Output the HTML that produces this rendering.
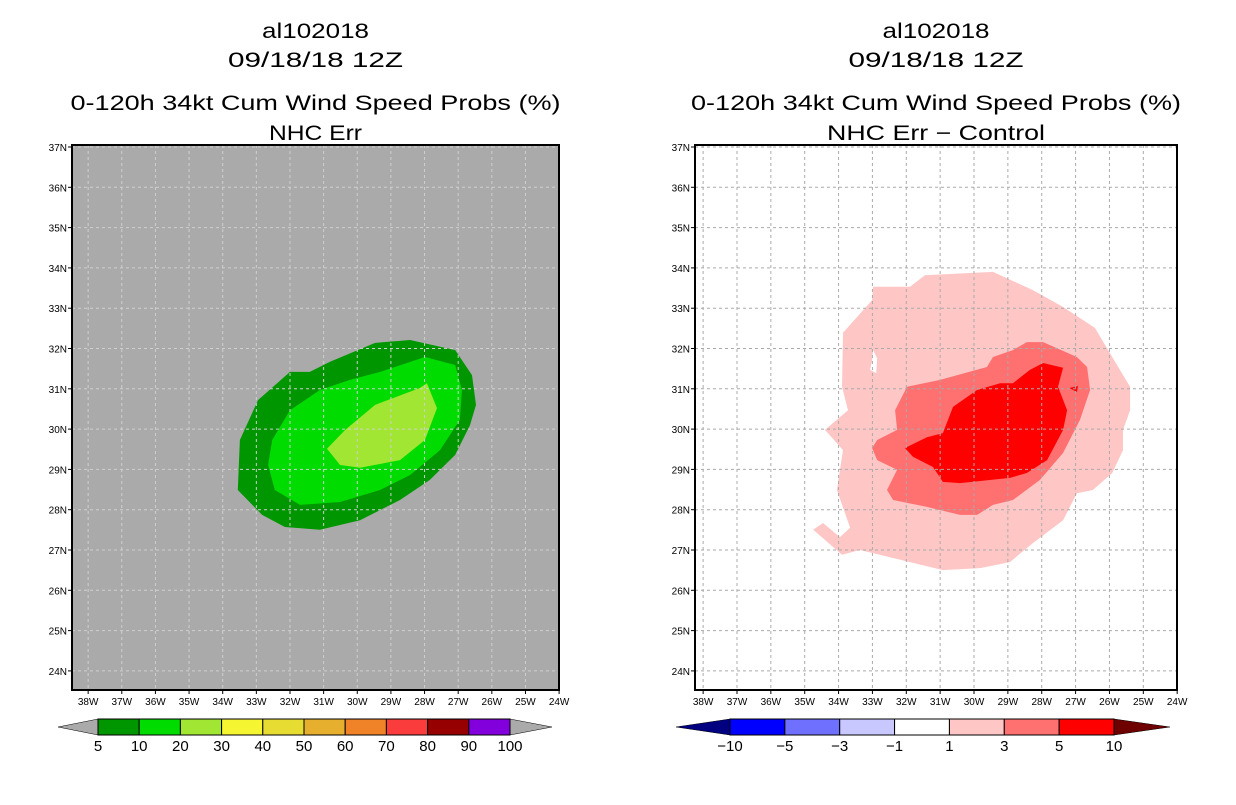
<!DOCTYPE html>
<html><head><meta charset="utf-8"><style>
body{margin:0;background:#fff;}
svg text{font-family:"Liberation Sans",sans-serif;}
</style></head><body>
<svg id="chart" width="1236" height="800" viewBox="0 0 1236 800" xmlns="http://www.w3.org/2000/svg"></svg>
<script>
// ---- data ----
const lonTicks = [38,37,36,35,34,33,32,31,30,29,28,27,26,25,24];
const latTicks = [37,36,35,34,33,32,31,30,29,28,27,26,25,24];
// Left panel contours (lon W, lat N)
const leftDark = [[33.55,28.49],[33.49,29.73],[32.95,30.72],[32.0,31.42],[31.41,31.42],[30.81,31.67],[29.47,32.14],[28.43,32.21],[27.09,31.96],[26.59,31.34],[26.47,30.6],[26.65,30.1],[27.09,29.36],[27.84,28.74],[28.73,28.24],[29.92,27.74],[31.11,27.5],[32.15,27.57],[32.83,27.87]];
const leftMid = [[32.65,29.11],[32.53,29.73],[32.0,30.47],[31.11,30.97],[30.22,31.22],[29.32,31.42],[27.99,31.79],[27.09,31.59],[26.89,30.97],[26.95,30.23],[27.54,29.48],[28.43,28.86],[29.32,28.49],[30.51,28.19],[31.7,28.12],[32.45,28.49]];
const leftLight = [[30.9,29.51],[30.36,29.98],[29.47,30.6],[28.14,31.02],[27.93,31.14],[27.63,30.52],[27.99,29.73],[28.73,29.23],[29.92,29.04],[30.51,29.11]];
// Right panel contours
const rightPink = [[31.45,33.82],[29.44,33.9],[28.26,33.45],[27.37,33.03],[26.43,32.51],[25.92,31.79],[25.39,31.05],[25.39,30.47],[25.6,29.98],[25.6,29.48],[25.92,28.91],[26.49,28.49],[26.96,28.41],[27.37,27.74],[28.26,27.17],[28.94,26.7],[29.82,26.55],[30.92,26.5],[31.89,26.7],[33.37,27.0],[33.9,26.88],[34.75,27.5],[34.46,27.67],[33.96,27.32],[33.66,27.55],[34.05,28.49],[33.87,29.48],[34.4,29.98],[33.72,30.47],[33.9,31.05],[33.87,32.39],[33.01,33.2],[32.98,33.53],[31.89,33.53]];
const rightHole = [[32.98,31.96],[32.86,31.76],[32.89,31.39],[33.07,31.47],[33.01,31.71]];
const rightMid = [[28.44,32.16],[27.96,32.16],[26.96,31.79],[26.66,31.54],[26.57,30.97],[26.87,30.23],[27.37,29.41],[28.05,28.74],[28.85,28.24],[29.44,28.12],[29.91,27.87],[30.41,27.87],[31.39,28.07],[32.39,28.24],[32.57,28.49],[32.27,28.99],[32.86,29.23],[33.01,29.53],[32.86,29.73],[32.27,29.98],[32.33,30.47],[31.98,31.05],[31.0,31.22],[29.62,31.54],[29.44,31.79],[28.85,31.96]];
const rightRed = [[27.96,31.64],[27.37,31.52],[27.52,31.05],[27.25,30.47],[27.37,29.98],[27.84,29.23],[28.44,28.91],[28.94,28.79],[30.41,28.66],[30.92,28.69],[31.21,29.06],[31.8,29.31],[32.04,29.53],[31.39,29.8],[30.92,29.9],[30.62,30.55],[29.91,30.97],[29.23,31.14],[28.85,31.14],[28.35,31.47]];
const rightRedSmall = [[27.19,31.02],[26.93,31.07],[26.96,30.92]];
const leftBarLabels = ['5','10','20','30','40','50','60','70','80','90','100'];
const leftBarColors = ['#009600','#00dc00','#a0e632','#f5f532','#e6dc32','#e6af2d','#f08228','#fa3c3c','#960000','#8200dc'];
const rightBarLabels = ['\u221210','\u22125','\u22123','\u22121','1','3','5','10'];
const rightBarColors = ['#0000ff','#7070ff','#c8c8ff','#ffffff','#ffc6c6','#ff7070','#ff0000'];

const NS='http://www.w3.org/2000/svg';
const svg=document.getElementById('chart');
function mk(tag,attrs,parent){const e=document.createElementNS(NS,tag);for(const k in attrs)e.setAttribute(k,attrs[k]);(parent||svg).appendChild(e);return e;}

function makePanel(p){
  const g=mk('g',{});
  
  
  const xS=lon=>p.x0+(p.lonL-lon)*p.pxLon;
  const yS=lat=>147+(37-lat)*40.3;
  const titles=[['al102018',38,'title-storm-id',107],['09/18/18 12Z',67,'title-date',175],[p.t1,110,'title-product',490],[p.t2,140,'title-subtitle',p.t2w]];
  titles.forEach(t=>{
    const e=mk('text',{x:(p.x0+p.x1)/2,y:t[1],'text-anchor':'middle','font-size':21,fill:'#000',textLength:t[3],lengthAdjust:'spacingAndGlyphs'},g);
    e.textContent=t[0];
    
    
  });
  const bg=mk('rect',{x:p.x0,y:145,width:p.x1-p.x0,height:545,fill:p.bg},g);
  
  
  const clip=mk('clipPath',{id:'clip'+p.id},g);
  mk('rect',{x:p.x0,y:145,width:p.x1-p.x0,height:545},clip);
  const cg=mk('g',{'clip-path':'url(#clip'+p.id+')'},g);
  p.polys.forEach(pl=>{
    const e=mk('polygon',{points:pl.pts.map(q=>xS(q[0]).toFixed(1)+','+yS(q[1]).toFixed(1)).join(' '),fill:pl.c},cg);
    
    
  });
  lonTicks.forEach(l=>{mk('line',{x1:xS(l),x2:xS(l),y1:145,y2:690,stroke:p.grid,'stroke-width':1,'stroke-dasharray':'3,3'},cg);});
  latTicks.forEach(l=>{mk('line',{x1:p.x0,x2:p.x1,y1:yS(l),y2:yS(l),stroke:p.grid,'stroke-width':1,'stroke-dasharray':'3,3'},cg);});
  const fr=mk('rect',{x:p.x0,y:145,width:p.x1-p.x0,height:545,fill:'none',stroke:'#000','stroke-width':2},g);
  
  
  lonTicks.forEach(l=>{
    mk('line',{x1:xS(l),x2:xS(l),y1:690,y2:694,stroke:'#000'},g);
    const e=mk('text',{x:xS(l),y:705,'text-anchor':'middle','font-size':10,fill:'#000'},g);
    e.textContent=l+'W';
    
    
  });
  latTicks.forEach(l=>{
    mk('line',{x1:p.x0-4,x2:p.x0,y1:yS(l),y2:yS(l),stroke:'#000'},g);
    const e=mk('text',{x:p.x0-5,y:yS(l)+4,'text-anchor':'end','font-size':10,fill:'#000'},g);
    e.textContent=l+'N';
    
    
  });
  const cb=p.cb, n=cb.colors.length, w=(cb.b1-cb.b0)/n;
  const lt=mk('polygon',{points:`${cb.b0},719 ${cb.b0},735 ${cb.tl},727`,fill:cb.lc,stroke:'#000','stroke-width':0.5},g);
  
  
  const rt=mk('polygon',{points:`${cb.b1},719 ${cb.b1},735 ${cb.tr},727`,fill:cb.rc,stroke:'#000','stroke-width':0.5},g);
  
  
  cb.colors.forEach((c,i)=>{
    const r=mk('rect',{x:cb.b0+i*w,y:719,width:w,height:16,fill:c,stroke:'#000','stroke-width':1},g);
    
    
  });
  cb.labels.forEach((t,i)=>{
    const e=mk('text',{x:cb.b0+i*w,y:751,'text-anchor':'middle','font-size':15,fill:'#000'},g);
    e.textContent=t;
    
    
  });
}
makePanel({id:'L',name:'left-panel',x0:72,x1:559,lonL:38.48,pxLon:33.64,bg:'#aaaaaa',grid:'#cfcfcf',
  t1:'0-120h 34kt Cum Wind Speed Probs (%)',t2:'NHC Err',t2w:93,
  polys:[{pts:leftDark,c:'#009600',n:'contour-5-10'},{pts:leftMid,c:'#00dc00',n:'contour-10-20'},{pts:leftLight,c:'#a0e632',n:'contour-20-30'}],
  cb:{b0:98,b1:510,tl:58,tr:552,lc:'#aaaaaa',rc:'#aaaaaa',colors:leftBarColors,labels:leftBarLabels}});
makePanel({id:'R',name:'right-panel',x0:695,x1:1177,lonL:38.24,pxLon:33.86,bg:'#ffffff',grid:'#aaaaaa',
  t1:'0-120h 34kt Cum Wind Speed Probs (%)',t2:'NHC Err \u2212 Control',t2w:218,
  polys:[{pts:rightPink,c:'#ffc6c6',n:'contour-1-3'},{pts:rightHole,c:'#ffffff',n:'contour-hole'},{pts:rightMid,c:'#ff7070',n:'contour-3-5'},{pts:rightRed,c:'#ff0000',n:'contour-5-10'},{pts:rightRedSmall,c:'#ff0000',n:'contour-5-10-small'}],
  cb:{b0:730,b1:1114,tl:676,tr:1170,lc:'#000080',rc:'#6e0000',colors:rightBarColors,labels:rightBarLabels}});
</script>
</body></html>
